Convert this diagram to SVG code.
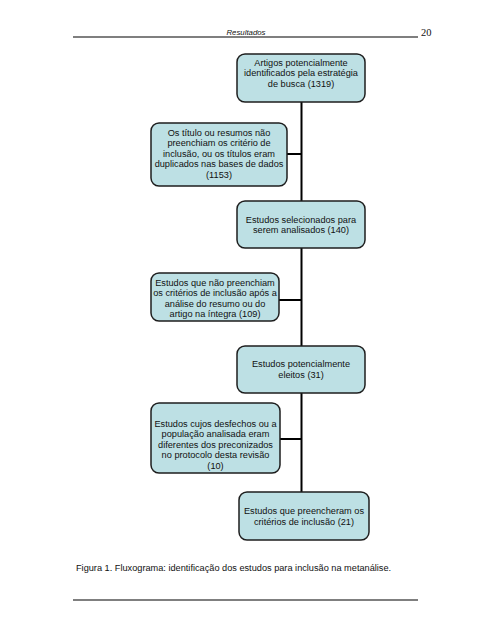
<svg xmlns="http://www.w3.org/2000/svg" width="495" height="640" viewBox="0 0 495 640">
<style>
.box{fill:#bde0e4;stroke:#1e1e1e;stroke-width:1.5}
.t{font-family:"Liberation Sans",Arial,sans-serif;font-size:9.2px;fill:#111;text-anchor:middle}
.conn{stroke:#000;stroke-width:2;fill:none}
.rule{stroke:#000;stroke-width:1.2}
</style>
<rect width="495" height="640" fill="#fff"/>
<g id="header">
<line class="rule" x1="73" y1="37" x2="418" y2="37"/>
<text x="246" y="35" font-family="'Liberation Sans',Arial,sans-serif" font-size="7.8" font-style="italic" text-anchor="middle" fill="#111">Resultados</text>
<text x="421" y="36" font-family="'Liberation Serif','Times New Roman',serif" font-size="10.5" fill="#111">20</text>
</g>
<g id="connectors">
<line class="conn" x1="301.5" y1="102" x2="301.5" y2="492"/>
<line class="conn" x1="287" y1="154" x2="301.5" y2="154"/>
<line class="conn" x1="279" y1="300" x2="301.5" y2="300"/>
<line class="conn" x1="280" y1="439" x2="301.5" y2="439"/>
</g>
<g id="n1">
<rect class="box" x="237" y="54" width="128" height="48" rx="8"/>
<text class="t" x="301" y="65.5">Artigos potencialmente</text>
<text class="t" x="301" y="76">identificados pela estratégia</text>
<text class="t" x="301" y="86.5">de busca (1319)</text>
</g>
<g id="n2">
<rect class="box" x="151" y="123" width="136" height="63" rx="8"/>
<text class="t" x="219" y="135.5">Os título ou resumos não</text>
<text class="t" x="219" y="146">preenchiam os critério de</text>
<text class="t" x="219" y="156.5">inclusão, ou os títulos eram</text>
<text class="t" x="219" y="167">duplicados nas bases de dados</text>
<text class="t" x="219" y="177.5">(1153)</text>
</g>
<g id="n3">
<rect class="box" x="237" y="201" width="128" height="47" rx="8"/>
<text class="t" x="301" y="222.5">Estudos selecionados para</text>
<text class="t" x="301" y="233">serem analisados (140)</text>
</g>
<g id="n4">
<rect class="box" x="151" y="273" width="128" height="48" rx="8"/>
<text class="t" x="215" y="285.5">Estudos que não preenchiam</text>
<text class="t" x="215" y="296">os critérios de inclusão após a</text>
<text class="t" x="215" y="306.5">análise do resumo ou do</text>
<text class="t" x="215" y="317">artigo na íntegra (109)</text>
</g>
<g id="n5">
<rect class="box" x="237" y="346" width="128" height="47" rx="8"/>
<text class="t" x="301" y="366.5">Estudos potencialmente</text>
<text class="t" x="301" y="377.5">eleitos (31)</text>
</g>
<g id="n6">
<rect class="box" x="151" y="403" width="129" height="70" rx="8"/>
<text class="t" x="215.5" y="426.5">Estudos cujos desfechos ou a</text>
<text class="t" x="215.5" y="437">população analisada eram</text>
<text class="t" x="215.5" y="447.5">diferentes dos preconizados</text>
<text class="t" x="215.5" y="458">no protocolo desta revisão</text>
<text class="t" x="215.5" y="468.5">(10)</text>
</g>
<g id="n7">
<rect class="box" x="239" y="492" width="130" height="48" rx="8"/>
<text class="t" x="304" y="513.5">Estudos que preencheram os</text>
<text class="t" x="304" y="524.5">critérios de inclusão (21)</text>
</g>
<g id="footer">
<text x="76" y="570.5" font-family="'Liberation Sans',Arial,sans-serif" font-size="9.2" fill="#111">Figura 1. Fluxograma: identificação dos estudos para inclusão na metanálise.</text>
<line class="rule" x1="73" y1="600" x2="418" y2="600"/>
</g>
</svg>
